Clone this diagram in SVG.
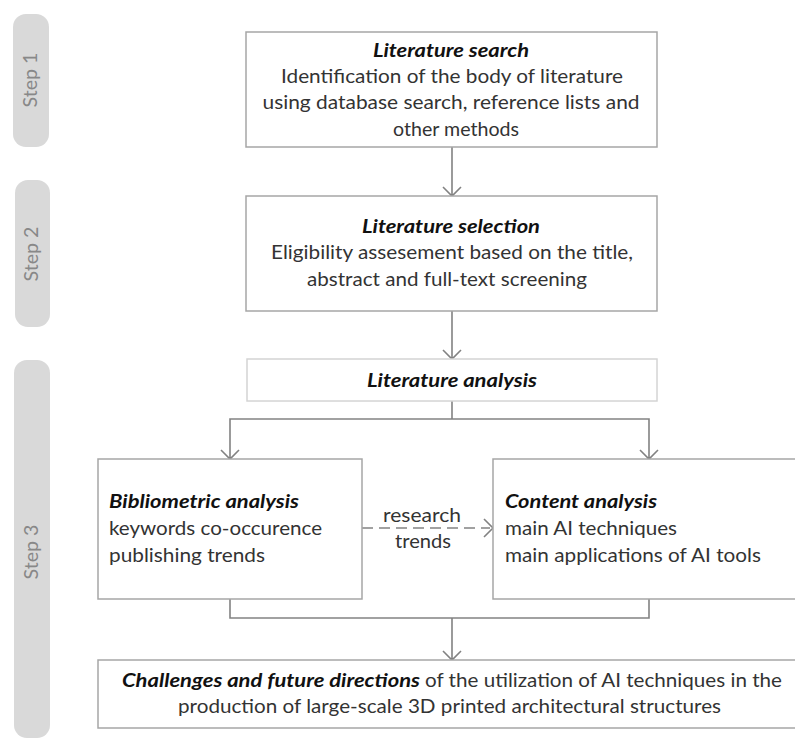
<svg xmlns="http://www.w3.org/2000/svg" width="795" height="738" viewBox="0 0 795 738">
<style>
.pill{fill:#d9d9d9}
.step{font-family:Lato,"Open Sans",sans-serif;font-size:19.5px;fill:#888;text-anchor:middle}
.box{fill:#fff;stroke:#a6a6a6;stroke-width:1.5}
.box.light{stroke:#d4d4d4}
.t{font-family:Lato,"Open Sans",sans-serif;font-size:19px;fill:#333}
.h{font-family:Lato,"Open Sans",sans-serif;font-size:19px;fill:#111;font-weight:bold;font-style:italic}
.c{text-anchor:middle}
.ln{fill:none;stroke:#828282;stroke-width:1.6}
.dash{stroke-dasharray:11 6}
</style>
<rect width="795" height="738" fill="#fff"/>
<g id="step1"><rect class="pill" x="13" y="14" width="36" height="133" rx="13"/><text class="step" transform="translate(37 80) rotate(-90)" textLength="55" lengthAdjust="spacingAndGlyphs">Step 1</text></g>
<g id="step2"><rect class="pill" x="15" y="180" width="35" height="147" rx="13"/><text class="step" transform="translate(38 254) rotate(-90)" textLength="55" lengthAdjust="spacingAndGlyphs">Step 2</text></g>
<g id="step3"><rect class="pill" x="14" y="360" width="36" height="378" rx="13"/><text class="step" transform="translate(38 552) rotate(-90)" textLength="55" lengthAdjust="spacingAndGlyphs">Step 3</text></g>

<g id="connectors">
<path class="ln" d="M452 147V195M443 187L452 196L461 187"/>
<path class="ln" d="M452 311V358M443 350L452 359L461 350"/>
<path class="ln" d="M452 401V419M230 458V419H649V458M221 450L230 459L239 450M640 450L649 459L658 450"/>
<path class="ln" d="M230 599V618H649V599M452 618V659M443 651L452 660L461 651"/>
<path class="ln dash" d="M362 528H490"/>
<path class="ln" d="M484 519L493 528L484 537"/>
<text class="t c" x="422" y="522" textLength="78" lengthAdjust="spacingAndGlyphs">research</text>
<text class="t c" x="423" y="548" textLength="56" lengthAdjust="spacingAndGlyphs">trends</text>
</g>

<g id="search">
<rect class="box" x="246" y="32" width="411" height="115"/>
<text class="h c" x="451" y="57" textLength="156" lengthAdjust="spacingAndGlyphs">Literature search</text>
<text class="t c" x="452" y="83" textLength="342" lengthAdjust="spacingAndGlyphs">Identification of the body of literature</text>
<text class="t c" x="451" y="109" textLength="377" lengthAdjust="spacingAndGlyphs">using database search, reference lists and</text>
<text class="t c" x="456" y="136" textLength="126" lengthAdjust="spacingAndGlyphs">other methods</text>
</g>

<g id="selection">
<rect class="box" x="246" y="196" width="411" height="115"/>
<text class="h c" x="451" y="233" textLength="178" lengthAdjust="spacingAndGlyphs">Literature selection</text>
<text class="t c" x="452" y="259" textLength="362" lengthAdjust="spacingAndGlyphs">Eligibility assesement based on the title,</text>
<text class="t c" x="447" y="286" textLength="280" lengthAdjust="spacingAndGlyphs">abstract and full-text screening</text>
</g>

<g id="analysis">
<rect class="box light" x="247" y="359" width="410" height="42"/>
<text class="h c" x="452" y="387" textLength="170" lengthAdjust="spacingAndGlyphs">Literature analysis</text>
</g>

<g id="bibliometric">
<rect class="box" x="98" y="459" width="264" height="140"/>
<text class="h" x="109" y="508" textLength="190" lengthAdjust="spacingAndGlyphs">Bibliometric analysis</text>
<text class="t" x="109" y="535" textLength="213" lengthAdjust="spacingAndGlyphs">keywords co-occurence</text>
<text class="t" x="109" y="562" textLength="156" lengthAdjust="spacingAndGlyphs">publishing trends</text>
</g>

<g id="content">
<path class="box" d="M800 459H493V599H800"/>
<text class="h" x="505" y="508" textLength="152" lengthAdjust="spacingAndGlyphs">Content analysis</text>
<text class="t" x="505" y="535" textLength="172" lengthAdjust="spacingAndGlyphs">main AI techniques</text>
<text class="t" x="505" y="562" textLength="256" lengthAdjust="spacingAndGlyphs">main applications of AI tools</text>
</g>

<g id="challenges">
<path class="box" d="M800 660H98V728H800"/>
<text class="h" x="122" y="687" textLength="298" lengthAdjust="spacingAndGlyphs">Challenges and future directions</text>
<text class="t" x="425" y="687" textLength="357" lengthAdjust="spacingAndGlyphs">of the utilization of AI techniques in the</text>
<text class="t c" x="449.5" y="713" textLength="543" lengthAdjust="spacingAndGlyphs">production of large-scale 3D printed architectural structures</text>
</g>
</svg>
